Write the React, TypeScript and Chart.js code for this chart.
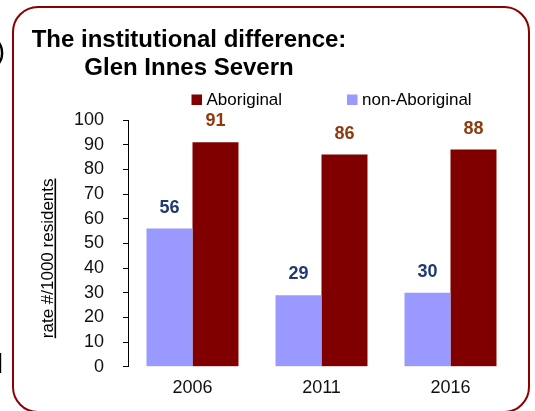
import React, { useEffect, useRef } from "react";
import { Chart, registerables } from "chart.js";

Chart.register(...registerables);

const categories = ["2006", "2011", "2016"];
const nonAboriginal = [56, 29, 30];
const aboriginal = [91, 86, 88];
const seriesNames = ["non-Aboriginal", "Aboriginal"];
const seriesColors = ["#9999FF", "#800000"];
const valueLabelColors = ["#1F3A73", "#8E3B10"];
const titleLines = ["The institutional difference:", "Glen Innes Severn"];
const yAxisTitle = "rate #/1000 residents";
const yMin = 0;
const yMax = 100;
const yStep = 10;

const FONT = '"Liberation Sans", Arial, Helvetica, sans-serif';

const decorPlugin = {
  id: "decor",
  afterDatasetsDraw(chart: any) {
    const ctx = chart.ctx;
    chart.data.datasets.forEach((ds: any, i: number) => {
      const meta = chart.getDatasetMeta(i);
      meta.data.forEach((el: any, j: number) => {
        ctx.save();
        ctx.font = `bold 18px ${FONT}`;
        ctx.fillStyle = valueLabelColors[i];
        ctx.textAlign = "center";
        ctx.textBaseline = "alphabetic";
        ctx.fillText(String(ds.data[j]), el.x, el.y - 16);
        ctx.restore();
      });
    });
  },
  afterDraw(chart: any) {
    const ctx = chart.ctx;
    const area = chart.chartArea;
    ctx.save();
    // Fragments of neighbouring text cut off at the left edge
    ctx.fillStyle = "#000";
    ctx.textBaseline = "alphabetic";
    ctx.textAlign = "right";
    ctx.font = `28px ${FONT}`;
    ctx.fillText(")", 5, 60);
    ctx.fillText("d", 3, 373);

    // Title
    ctx.font = `bold 24px ${FONT}`;
    ctx.fillStyle = "#000";
    ctx.textAlign = "center";
    ctx.fillText(titleLines[0], 189, 47);
    ctx.fillText(titleLines[1], 189, 75);

    // Y axis title (rotated, underlined)
    ctx.save();
    const cy = (area.top + area.bottom) / 2 + 15;
    ctx.translate(53, cy);
    ctx.rotate(-Math.PI / 2);
    ctx.font = `17px ${FONT}`;
    ctx.textAlign = "center";
    ctx.fillText(yAxisTitle, 0, 0);
    const w = ctx.measureText(yAxisTitle).width;
    ctx.fillRect(-w / 2, 1.5, w, 1.6);
    ctx.restore();

    // Legend (Aboriginal first, then non-Aboriginal)
    ctx.font = `17px ${FONT}`;
    ctx.textAlign = "left";
    const order = [1, 0];
    const boxX = [191.5, 347];
    order.forEach((di, k) => {
      const ds = chart.data.datasets[di];
      ctx.fillStyle = ds.backgroundColor;
      ctx.fillRect(boxX[k], 94.5, 10.5, 10.5);
      ctx.fillStyle = "#000";
      ctx.fillText(ds.label, boxX[k] + 15, 105);
    });
    ctx.restore();
  },
};

function BarChart() {
  const ref = useRef<HTMLCanvasElement | null>(null);
  useEffect(() => {
    if (!ref.current) return;
    const chart = new Chart(ref.current, {
      type: "bar",
      data: {
        labels: categories,
        datasets: [
          {
            label: seriesNames[0],
            data: nonAboriginal,
            backgroundColor: seriesColors[0],
            borderWidth: 0,
          },
          {
            label: seriesNames[1],
            data: aboriginal,
            backgroundColor: seriesColors[1],
            borderWidth: 0,
          },
        ],
      },
      options: {
        responsive: false,
        animation: false,
        devicePixelRatio: 1,
        layout: { padding: { top: 120, right: 20, left: 0, bottom: 0 } },
        plugins: {
          legend: { display: false },
          title: { display: false },
          tooltip: { enabled: false },
        },
        datasets: {
          bar: { categoryPercentage: 0.713, barPercentage: 1.0 },
        },
        scales: {
          x: {
            offset: true,
            grid: { display: false, drawTicks: false, tickLength: 0 },
            border: { display: false },
            ticks: {
              font: { family: FONT, size: 18 },
              color: "#111",
              padding: 11,
            },
            afterFit: (scale: any) => {
              scale.height = 44.3;
            },
          },
          y: {
            min: yMin,
            max: yMax,
            ticks: {
              stepSize: yStep,
              font: { family: FONT, size: 18 },
              color: "#111",
              padding: 19,
            },
            grid: {
              drawOnChartArea: false,
              drawTicks: true,
              tickLength: 5,
              color: "#000",
            },
            border: { display: true, color: "#000", width: 1 },
            afterFit: (scale: any) => {
              scale.width = 128;
            },
          },
        },
      },
      plugins: [decorPlugin],
    } as any);
    return () => chart.destroy();
  }, []);
  return (
    <canvas
      ref={ref}
      width={535}
      height={411}
      style={{ position: "absolute", left: 0, top: 0, width: 535, height: 411 }}
    />
  );
}

export default function App() {
  return (
    <div
      style={{
        position: "fixed",
        left: 0,
        top: 0,
        width: 535,
        height: 411,
        overflow: "hidden",
        background: "#fff",
        fontFamily: FONT,
      }}
    >
      <div
        style={{
          position: "absolute",
          left: 12,
          top: 6,
          width: 518,
          height: 407,
          boxSizing: "border-box",
          border: "2px solid #8B0000",
          borderRadius: 26,
        }}
      />
      <BarChart />
    </div>
  );
}
